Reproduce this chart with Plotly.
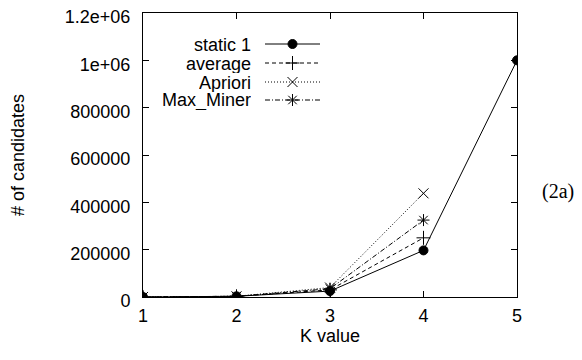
import plotly.graph_objects as go

# ---- data ----
k_values = [1, 2, 3, 4, 5]
static1 = [100, 3000, 25000, 197000, 1000000]
k_short = [1, 2, 3, 4]
average = [100, 3000, 30000, 250000]
apriori = [100, 3000, 40000, 438000]
max_miner = [100, 3000, 35000, 325000]

y_tickvals = [0, 200000, 400000, 600000, 800000, 1000000, 1200000]
y_ticktext = ["0", "200000", "400000", "600000", "800000", "1e+06", "1.2e+06"]
x_tickvals = [1, 2, 3, 4, 5]

series = [
    ("static 1", k_values, static1, "solid", "circle", 9),
    ("average", k_short, average, "4px,3px", "cross-thin-open", 10),
    ("Apriori", k_short, apriori, "1px,2px", "x-thin-open", 10),
    ("Max_Miner", k_short, max_miner, "5px,2px,1px,2px", "asterisk-open", 10),
]

FONT = "Liberation Sans, Arial, sans-serif"
FS = 18

# page body has an 8px margin: the figure sits at (8, 8) in the window
OFF = 8
W, H = 582 - OFF, 360 - OFF
# plot box in window pixels (reference)
L, R, T, B = 143, 517, 13, 297

fig = go.Figure()
for name, xs, ys, dash, sym, size in series:
    fig.add_trace(go.Scatter(
        x=xs, y=ys, mode="lines+markers", name=name, showlegend=False,
        line=dict(color="black", width=1, dash=dash),
        marker=dict(symbol=sym, size=size, color="black",
                    line=dict(color="black", width=1)),
    ))

# ---- custom gnuplot-style key (text left, sample right), on a pixel overlay axis ----
key_rows = [44, 63, 82, 100]
key_text_x = 252
key_line = (265, 320)
annotations = []
for (name, xs, ys, dash, sym, size), yrow in zip(series, key_rows):
    fig.add_trace(go.Scatter(
        x=[key_line[0], key_line[1]], y=[yrow, yrow], xaxis="x2", yaxis="y2",
        mode="lines", showlegend=False, hoverinfo="skip",
        line=dict(color="black", width=1, dash=dash),
    ))
    fig.add_trace(go.Scatter(
        x=[(key_line[0] + key_line[1]) / 2], y=[yrow], xaxis="x2", yaxis="y2",
        mode="markers", showlegend=False, hoverinfo="skip",
        marker=dict(symbol=sym, size=size, color="black",
                    line=dict(color="black", width=1)),
    ))
    annotations.append(dict(
        x=key_text_x, y=yrow, xref="x2", yref="y2", text=name, showarrow=False,
        xanchor="right", yanchor="middle", height=19, borderpad=0,
        font=dict(family=FONT, size=FS, color="black"),
    ))

annotations.append(dict(
    x=(558 - L) / (R - L), y=(B - 192) / (B - T), xref="paper", yref="paper",
    text="(2a)", showarrow=False, xanchor="center", yanchor="middle",
    font=dict(family="Liberation Serif, DejaVu Serif, serif", size=20, color="black"),
))

fig.update_layout(
    width=W, height=H,
    margin=dict(l=L - OFF, r=W - (R - OFF), t=T - OFF, b=H - (B - OFF), autoexpand=False),
    paper_bgcolor="white", plot_bgcolor="white",
    font=dict(family=FONT, size=FS, color="black"),
    showlegend=False,
    annotations=annotations,
    xaxis=dict(
        range=[1, 5], tickvals=x_tickvals, ticks="inside", ticklen=6,
        tickcolor="black", showline=True, linecolor="black", linewidth=1,
        mirror="ticks", showgrid=False, zeroline=False, automargin=False,
        ticklabelstandoff=2, ticklabeloverflow="allow",
        title=dict(text="K value", standoff=3, font=dict(size=FS)),
        tickfont=dict(size=FS),
    ),
    yaxis=dict(
        range=[0, 1200000], tickvals=y_tickvals, ticktext=y_ticktext,
        ticks="inside", ticklen=6, tickcolor="black", showline=True,
        linecolor="black", linewidth=1, mirror="ticks", showgrid=False,
        zeroline=False, ticklabelstandoff=8, ticklabelshift=4, automargin=False,
        ticklabeloverflow="allow",
        title=dict(text="# of candidates", standoff=40, font=dict(size=FS)),
        tickfont=dict(size=FS),
    ),
    xaxis2=dict(overlaying="x", range=[L, R], visible=False, fixedrange=True),
    yaxis2=dict(overlaying="y", range=[B, T], visible=False, fixedrange=True),
)

fig.write_html("out.html")
